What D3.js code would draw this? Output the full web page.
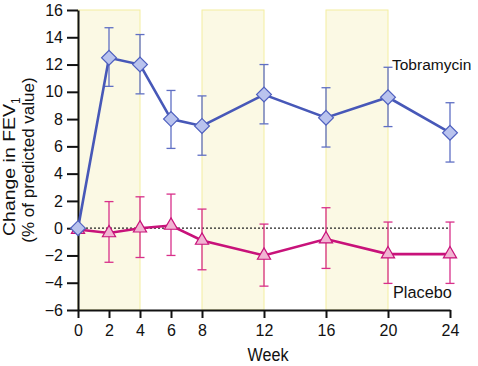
<!DOCTYPE html>
<html><head><meta charset="utf-8">
<script src="https://cdn.jsdelivr.net/npm/d3@7"></script>
<style>body{margin:0;background:#fff}svg{display:block}text{font-family:"Liberation Sans",Arial,sans-serif;fill:#111}</style>
</head><body><svg id="c" width="478" height="366"></svg>
<script>
const weeks = [0, 2, 4, 6, 8, 12, 16, 20, 24];
const tobraMean = [0, 12.5, 12.0, 8.0, 7.5, 9.8, 8.1, 9.6, 7.0];
const tobraLow  = [null, 10.4, 9.85, 5.85, 5.35, 7.65, 5.95, 7.45, 4.85];
const tobraHigh = [null, 14.7, 14.2, 10.1, 9.7, 12.0, 10.3, 11.8, 9.2];
const placMean = [-0.1, -0.35, 0.0, 0.2, -0.9, -2.0, -0.8, -1.9, -1.9];
const placLow  = [null, -2.5, -2.15, -2.0, -3.05, -4.25, -2.95, -4.05, -4.05];
const placHigh = [null, 1.95, 2.3, 2.5, 1.4, 0.3, 1.5, 0.45, 0.45];
const bands = [[0, 4], [8, 12], [16, 20]];
const xTicks = [0, 2, 4, 6, 8, 12, 16, 20, 24];
const yTicks = [-6, -4, -2, 0, 2, 4, 6, 8, 10, 12, 14, 16];

const svg = d3.select("#c");
const x = d3.scaleLinear().domain([0, 24]).range([78, 450]);
const y = d3.scaleLinear().domain([-6, 16]).range([310, 10]);

// bands
svg.selectAll("rect.band").data(bands).join("rect")
  .attr("x", d => x(d[0])).attr("width", d => x(d[1]) - x(d[0]))
  .attr("y", y(16)).attr("height", y(-6) - y(16))
  .attr("fill", "#fbf9e4").attr("stroke", "#f3eea0").attr("stroke-width", 1);

// zero dotted line
svg.append("line").attr("x1", x(0)).attr("x2", x(24)).attr("y1", y(0)).attr("y2", y(0))
  .attr("stroke", "#222").attr("stroke-width", 1.2).attr("stroke-dasharray", "2,2");

// axes
const fmt = d => d < 0 ? "\u2212" + Math.abs(d) : String(d);
const ya = svg.append("g").attr("transform", `translate(${x(0)},0)`)
  .call(d3.axisLeft(y).tickValues(yTicks).tickFormat(fmt).tickSize(11).tickSizeOuter(0).tickPadding(4));
const xa = svg.append("g").attr("transform", `translate(0,${y(-6)})`)
  .call(d3.axisBottom(x).tickValues(xTicks).tickSize(8).tickSizeOuter(0).tickPadding(5));
[ya, xa].forEach(g => {
  g.select(".domain").attr("stroke", "#111").attr("stroke-width", 2);
  g.selectAll(".tick line").attr("stroke", "#111").attr("stroke-width", 2);
  g.selectAll(".tick text").attr("font-size", 16).attr("fill", "#111")
    .attr("font-family", '"Liberation Sans",Arial,sans-serif');
});
xa.selectAll(".tick text").attr("dy", "0.8em");

// axis titles
svg.append("text").attr("x", 268).attr("y", 361).attr("text-anchor", "middle")
  .attr("font-size", 17.5).attr("textLength", 41).attr("lengthAdjust", "spacingAndGlyphs").text("Week");
const yt = svg.append("text").attr("transform", "translate(15,236) rotate(-90)")
  .attr("text-anchor", "start").attr("font-size", 17);
yt.append("tspan").attr("textLength", 132).attr("lengthAdjust", "spacingAndGlyphs").text("Change in FEV");
yt.append("tspan").attr("font-size", 12).attr("dy", 5).text("1");
svg.append("text").attr("transform", "translate(34,160) rotate(-90)")
  .attr("text-anchor", "middle").attr("font-size", 17).text("(% of predicted value)");

function series(mean, lo, hi, lineCol, barCol, fill, stroke, shape, size) {
  const g = svg.append("g");
  const idx = weeks.map((w, i) => i);
  idx.filter(i => lo[i] !== null).forEach(i => {
    const cx = x(weeks[i]);
    g.append("line").attr("x1", cx).attr("x2", cx).attr("y1", y(lo[i])).attr("y2", y(hi[i]))
      .attr("stroke", barCol).attr("stroke-width", 1.3);
    [lo[i], hi[i]].forEach(v => g.append("line").attr("x1", cx - 4.5).attr("x2", cx + 4.5)
      .attr("y1", y(v)).attr("y2", y(v)).attr("stroke", barCol).attr("stroke-width", 1.3));
  });
  g.append("path").datum(idx)
    .attr("d", d3.line().x(i => x(weeks[i])).y(i => y(mean[i])))
    .attr("fill", "none").attr("stroke", lineCol).attr("stroke-width", 2.6);
  g.selectAll("path.m").data(idx).join("path")
    .attr("d", d3.symbol().type(shape).size(size))
    .attr("transform", i => `translate(${x(weeks[i])},${y(mean[i])})` + (shape === d3.symbolSquare ? " rotate(45)" : ""))
    .attr("fill", fill).attr("stroke", stroke).attr("stroke-width", 1.2);
}
series(placMean, placLow, placHigh, "#c8127a", "#d8308a", "#f1b4d2", "#c8127a", d3.symbolTriangle, 75);
series(tobraMean, tobraLow, tobraHigh, "#4758b8", "#5f6fc4", "#b9c3ee", "#4f60bf", d3.symbolSquare, 110);

svg.append("text").attr("x", 392).attr("y", 70).attr("font-size", 15.5).text("Tobramycin");
svg.append("text").attr("x", 393).attr("y", 298).attr("font-size", 16.3).text("Placebo");
</script></body></html>
